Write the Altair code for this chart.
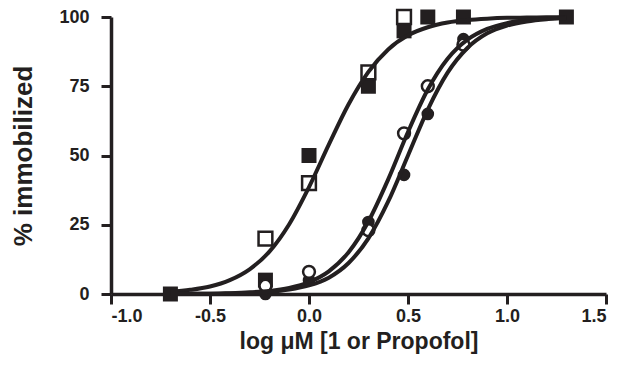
import altair as alt
import pandas as pd

# ---- measured data points ----
sq_filled_x = [-0.70, -0.22, 0.00, 0.30, 0.48, 0.60, 0.78, 1.30]
sq_filled_y = [0, 5, 50, 75, 95, 100, 100, 100]
sq_open_x = [-0.22, 0.00, 0.30, 0.48]
sq_open_y = [20, 40, 80, 100]
ci_filled_x = [-0.22, 0.00, 0.30, 0.48, 0.60, 0.78]
ci_filled_y = [0, 5, 26, 43, 65, 92]
ci_open_x = [-0.22, 0.00, 0.30, 0.48, 0.60, 0.78]
ci_open_y = [3, 8, 23, 58, 75, 90]

# ---- fitted curves ----
curve_x = [-0.7, -0.6, -0.5, -0.4, -0.3, -0.2, -0.1, 0.0, 0.1, 0.2, 0.3,
           0.4, 0.5, 0.6, 0.7, 0.8, 0.9, 1.0, 1.1, 1.2, 1.3]
curve_sq = [0.8, 1.5, 2.7, 5.0, 8.9, 15.3, 25.2, 38.6, 53.9, 68.5, 80.2,
            88.3, 93.4, 96.3, 98.0, 98.9, 99.4, 99.7, 99.8, 99.9, 100.0]
curve_open = [0.0, 0.1, 0.1, 0.3, 0.6, 1.1, 2.2, 4.3, 8.2, 15.1, 26.2,
              41.4, 58.5, 73.8, 84.9, 91.8, 95.7, 97.8, 98.9, 99.4, 99.7]
curve_filled = [0.0, 0.1, 0.1, 0.2, 0.4, 0.8, 1.6, 3.1, 5.9, 11.2, 20.1,
                33.4, 50.0, 66.6, 79.9, 88.8, 94.1, 96.9, 98.4, 99.2, 99.6]

x_ticks = [-1.0, -0.5, 0.0, 0.5, 1.0, 1.5]
y_ticks = [0, 25, 50, 75, 100]

INK = "#231f20"
FONT = "Liberation Sans"

xs = alt.Scale(domain=[-1.0, 1.5], nice=False, zero=False)
ys = alt.Scale(domain=[0, 100], nice=False)

X = alt.X("x:Q", scale=xs,
          axis=alt.Axis(values=x_ticks, title="log μM [1 or Propofol]",
                        labelExpr="datum.value < 0 ? '-' + format(-datum.value, '.1f') : format(datum.value, '.1f')",
                        labelPadding=3, titlePadding=5, titleFontSize=23))
Y = alt.Y("y:Q", scale=ys,
          axis=alt.Axis(values=y_ticks, title="% immobilized", labelPadding=12,
                        titlePadding=22, titleFontSize=26))

def pts(xv, yv):
    return pd.DataFrame({"x": xv, "y": yv})

layers = []
layers.append(alt.Chart(pts(sq_filled_x, sq_filled_y)).mark_point(
    shape="square", size=225, filled=True, color=INK, opacity=1).encode(x=X, y=Y))
layers.append(alt.Chart(pts(sq_open_x, sq_open_y)).mark_point(
    shape="square", size=190, filled=True, fill="white", stroke=INK, strokeWidth=2.5,
    opacity=1).encode(x=X, y=Y))
layers.append(alt.Chart(pts(ci_filled_x, ci_filled_y)).mark_point(
    shape="circle", size=160, filled=True, color=INK, opacity=1).encode(x=X, y=Y))
layers.append(alt.Chart(pts(ci_open_x, ci_open_y)).mark_point(
    shape="circle", size=140, filled=True, fill="white", stroke=INK, strokeWidth=2.5,
    opacity=1).encode(x=X, y=Y))

for cy in (curve_sq, curve_open, curve_filled):
    layers.append(alt.Chart(pts(curve_x, cy)).mark_line(
        color=INK, strokeWidth=4, interpolate="monotone").encode(x=X, y=Y))

chart = alt.layer(*layers).properties(
    width=495, height=277,
    padding={"left": 103, "top": 9, "right": 18, "bottom": 66},
    autosize=alt.AutoSizeParams(type="none"),
).configure_view(stroke=None).configure_axis(
    grid=False,
    domainColor=INK, domainWidth=3.5,
    tickColor=INK, tickWidth=3, tickSize=10,
    labelFont=FONT, labelFontWeight="bold", labelFontSize=18, labelColor=INK,
    titleFont=FONT, titleFontWeight="bold", titleColor=INK,
)

chart.save("out.html", embed_options={"renderer": "svg", "actions": False})
